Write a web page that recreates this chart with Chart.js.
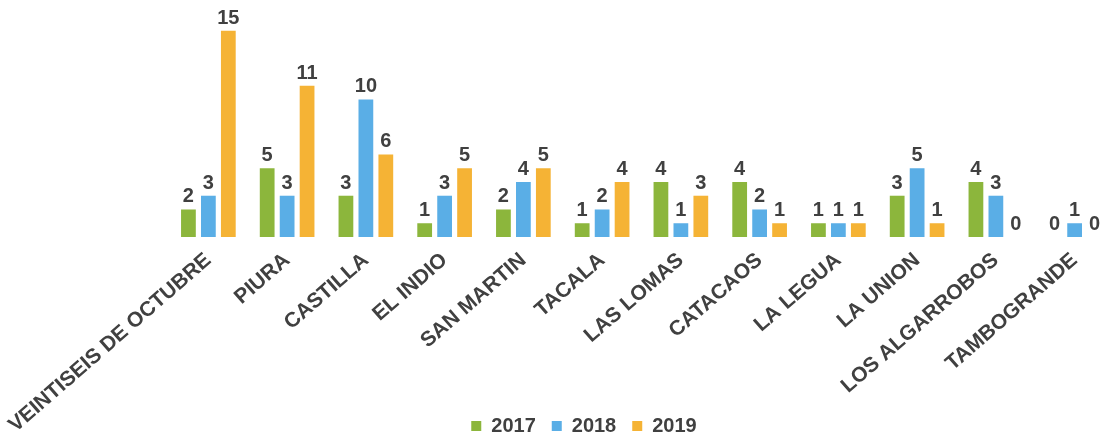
<!DOCTYPE html>
<html>
<head>
<meta charset="utf-8">
<script src="https://cdn.jsdelivr.net/npm/chart.js@4"></script>
<style>
html,body{margin:0;padding:0;background:#fff;overflow:hidden;width:1102px;height:439px;}
#wrap{position:absolute;left:0;top:0;width:1168px;height:446px;}
</style>
</head>
<body>
<div id="wrap"><canvas id="c"></canvas></div>
<script>
const categories = ["VEINTISEIS DE OCTUBRE","PIURA","CASTILLA","EL INDIO","SAN MARTIN","TACALA","LAS LOMAS","CATACAOS","LA LEGUA","LA UNION","LOS ALGARROBOS","TAMBOGRANDE"];
const seriesNames = ["2017","2018","2019"];
const values2017 = [2,5,3,1,2,1,4,4,1,3,4,0];
const values2018 = [3,3,10,3,4,2,1,2,1,5,3,1];
const values2019 = [15,11,6,5,5,4,3,1,1,1,0,0];
const colors = ["#8cb63c","#5aaee6","#f5b335"];
const textColor = "#404040";
const FONT = "'Liberation Sans', Arial, sans-serif";

const dataLabels = {
  id:'dataLabels',
  afterLayout(chart){
    // let rotated tick labels extend over the legend area without being clipped
    chart.scales.x.bottom = chart.height;
  },
  afterDatasetsDraw(chart){
    const ctx = chart.ctx;
    ctx.save();
    ctx.font = "bold 20px " + FONT;
    ctx.fillStyle = textColor;
    ctx.textAlign = 'center';
    ctx.textBaseline = 'alphabetic';
    chart.data.datasets.forEach((ds,i)=>{
      chart.getDatasetMeta(i).data.forEach((bar,j)=>{
        ctx.fillText(String(ds.data[j]), bar.x, bar.y - 7);
      });
    });
    ctx.restore();
  }
};

new Chart(document.getElementById('c'), {
  type:'bar',
  data:{
    labels: categories,
    datasets:[
      {label:seriesNames[0], data:values2017, backgroundColor:colors[0]},
      {label:seriesNames[1], data:values2018, backgroundColor:colors[1]},
      {label:seriesNames[2], data:values2019, backgroundColor:colors[2]}
    ]
  },
  options:{
    responsive:true,
    maintainAspectRatio:false,
    animation:false,
    layout:{padding:{left:0,right:0,top:10,bottom:0}},
    datasets:{bar:{categoryPercentage:0.76,barPercentage:0.74}},
    plugins:{
      legend:{
        position:'bottom',
        labels:{
          usePointStyle:true,
          pointStyle:'rect',
          boxWidth:10,
          boxHeight:10,
          padding:16,
          color:textColor,
          font:{family:FONT,size:20,weight:'bold'}
        }
      },
      tooltip:{enabled:false}
    },
    scales:{
      x:{
        grid:{display:false},
        border:{display:false},
        ticks:{
          autoSkip:false,
          minRotation:41,
          maxRotation:41,
          padding:3,
          color:textColor,
          font:{family:FONT,size:21,weight:'bold'}
        },
        afterFit(scale){
          scale.height = 163;
          scale.paddingLeft = 169;
          scale.paddingRight = 54;
        }
      },
      y:{
        display:false,
        min:0,
        max:16.5
      }
    }
  },
  plugins:[dataLabels]
});
</script>
</body>
</html>
